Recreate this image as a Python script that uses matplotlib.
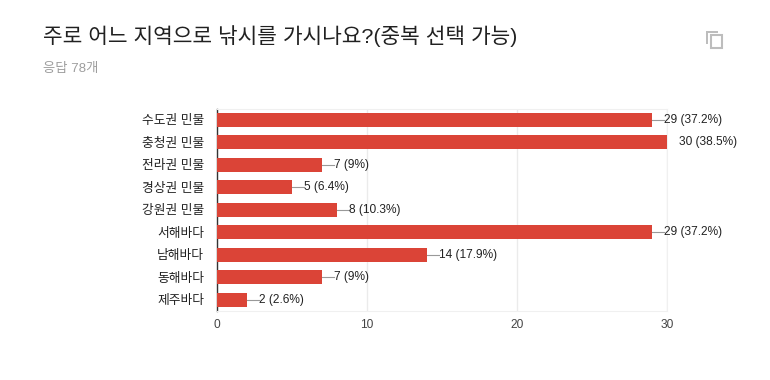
import matplotlib
matplotlib.use('Agg')
import matplotlib.pyplot as plt
from matplotlib.patches import Rectangle

# 숫자/영문은 Liberation Sans, 한글은 Noto
plt.rcParams['font.family'] = ['Liberation Sans', 'Noto Sans CJK KR']

# 데이터
categories = ['수도권 민물', '충청권 민물', '전라권 민물', '경상권 민물', '강원권 민물',
              '서해바다', '남해바다', '동해바다', '제주바다']
counts = [29, 30, 7, 5, 8, 29, 14, 7, 2]
percents = ['37.2%', '38.5%', '9%', '6.4%', '10.3%', '37.2%', '17.9%', '9%', '2.6%']
xticks = [0, 10, 20, 30]
title = '주로 어느 지역으로 낚시를 가시나요?(중복 선택 가능)'
subtitle = '응답 78개'

W, H = 770, 380
fig = plt.figure(figsize=(W / 100, H / 100), dpi=100)
ax = fig.add_axes([216.5 / W, 1 - 311 / H, (667 - 216.5) / W, (311 - 108.5) / H])

ax.barh(categories, counts, height=0.62, color='#db4437', zorder=3)
ax.set_xlim(0, 30)
ax.set_ylim(len(categories) - 0.5, -0.5)

# 값 라벨 + 지시선 (지시선은 축 안에서 잘림)
for i, (c, p) in enumerate(zip(counts, percents)):
    ax.plot([c, c + 0.8], [i, i], color='#999999', lw=0.8, zorder=2)
    ax.annotate(f'{c} ({p})', (c, i), xytext=(8.7, 0), textcoords='offset points',
                va='center', ha='left', fontsize=8.6, color='#222222', annotation_clip=False)

# 축, 격자
ax.set_xticks(xticks)
ax.grid(axis='x', color='#ebebeb', lw=1, zorder=0)
ax.set_axisbelow(True)
for s in ['top', 'right', 'bottom']:
    ax.spines[s].set_color('#f0f0f0')
ax.spines['left'].set_color('#333333')
ax.spines['left'].set_linewidth(1)
ax.tick_params(axis='both', length=0)
ax.tick_params(axis='y', pad=9, labelsize=9.2, labelcolor='#222222')
ax.tick_params(axis='x', pad=6, labelsize=8.6, labelcolor='#444444')

# 제목
fig.text(43 / W, 1 - 36.5 / H, title, fontsize=15.4, color='#212121', va='center', ha='left')
fig.text(43 / W, 1 - 69 / H, subtitle, fontsize=9.6, color='#9e9e9e', va='center', ha='left')

# 복사 아이콘
fig.add_artist(Rectangle((706 / W, 1 - 44 / H), 2 / W, 13 / H, transform=fig.transFigure,
                         facecolor='#bdbdbd', edgecolor='none'))
fig.add_artist(Rectangle((706 / W, 1 - 33 / H), 12 / W, 2 / H, transform=fig.transFigure,
                         facecolor='#bdbdbd', edgecolor='none'))
fig.add_artist(Rectangle((710.5 / W, 1 - 47.5 / H), 11 / W, 13 / H, transform=fig.transFigure,
                         facecolor='white', edgecolor='#bdbdbd', lw=1.5))

fig.savefig('out.png', dpi=100, facecolor='white')
